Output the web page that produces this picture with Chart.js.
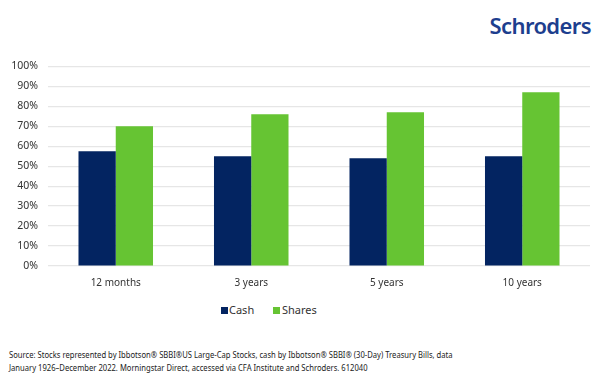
<!DOCTYPE html>
<html>
<head>
<meta charset="utf-8">
<style>
  html, body { margin: 0; padding: 0; background: #fff; }
  body { width: 600px; height: 376px; position: relative; overflow: hidden; font-family: "Noto Sans", "Open Sans", sans-serif; }
  .logo { position: absolute; right: 9px; top: 10px; font-family: "Noto Sans", sans-serif; font-weight: 600; font-size: 22px; color: #1d3e8e; letter-spacing: -0.6px; }
  .chart-box { position: absolute; left: 0; top: 50px; width: 600px; height: 242px; }
  .legend { position: absolute; top: 302px; left: 0; font-size: 11px; color: #333; }
  .legend span { position: absolute; white-space: nowrap; }
  .legend i { position: absolute; width: 7px; height: 7px; top: 5px; }
  .source { position: absolute; left: 9px; top: 348px; font-size: 9.2px; line-height: 13px; color: #222; white-space: nowrap; transform: scaleX(0.83); transform-origin: left top; }
</style>
</head>
<body>
<div class="logo">Schroders</div>
<div class="chart-box"><canvas id="barChart"></canvas></div>
<div class="legend">
  <i style="left:221px;background:#032461"></i><span style="left:229px">Cash</span>
  <i style="left:273px;background:#66c433"></i><span style="left:282px">Shares</span>
</div>
<div class="source">Source: Stocks represented by Ibbotson® SBBI®US Large-Cap Stocks, cash by Ibbotson® SBBI® (30-Day) Treasury Bills, data<br>January 1926–December 2022. Morningstar Direct, accessed via CFA Institute and Schroders. 612040</div>
<script src="https://cdn.jsdelivr.net/npm/chart.js"></script>
<script>
const periods = ['12 months', '3 years', '5 years', '10 years'];
const cashValues = [57.5, 55, 54, 55];
const sharesValues = [70, 76, 77, 87];

const barCtx = document.getElementById('barChart').getContext('2d');
new Chart(barCtx, {
  type: 'bar',
  data: {
    labels: periods,
    datasets: [
      { label: 'Cash', data: cashValues, backgroundColor: '#032461', borderWidth: 0 },
      { label: 'Shares', data: sharesValues, backgroundColor: '#66c433', borderWidth: 0 }
    ]
  },
  options: {
    responsive: true,
    maintainAspectRatio: false,
    animation: false,
    layout: { padding: { left: 6, right: 10, top: 9, bottom: 0 } },
    datasets: { bar: { categoryPercentage: 0.55, barPercentage: 1 } },
    plugins: {
      tooltip: { enabled: false },
      legend: { display: false }
    },
    scales: {
      x: {
        grid: { display: false },
        border: { display: false },
        ticks: { color: '#333', font: { family: 'Noto Sans', size: 10 }, padding: 3 }
      },
      y: {
        min: 0, max: 100,
        grid: { color: '#e6e6e6', drawTicks: false, lineWidth: 1.2 },
        border: { display: false },
        afterFit: s => { s.width = 42; },
        ticks: { stepSize: 10, color: '#333', padding: 10, font: { family: 'Noto Sans', size: 10.5 }, callback: v => v + '%' }
      }
    }
  }
});
</script>
</body>
</html>
